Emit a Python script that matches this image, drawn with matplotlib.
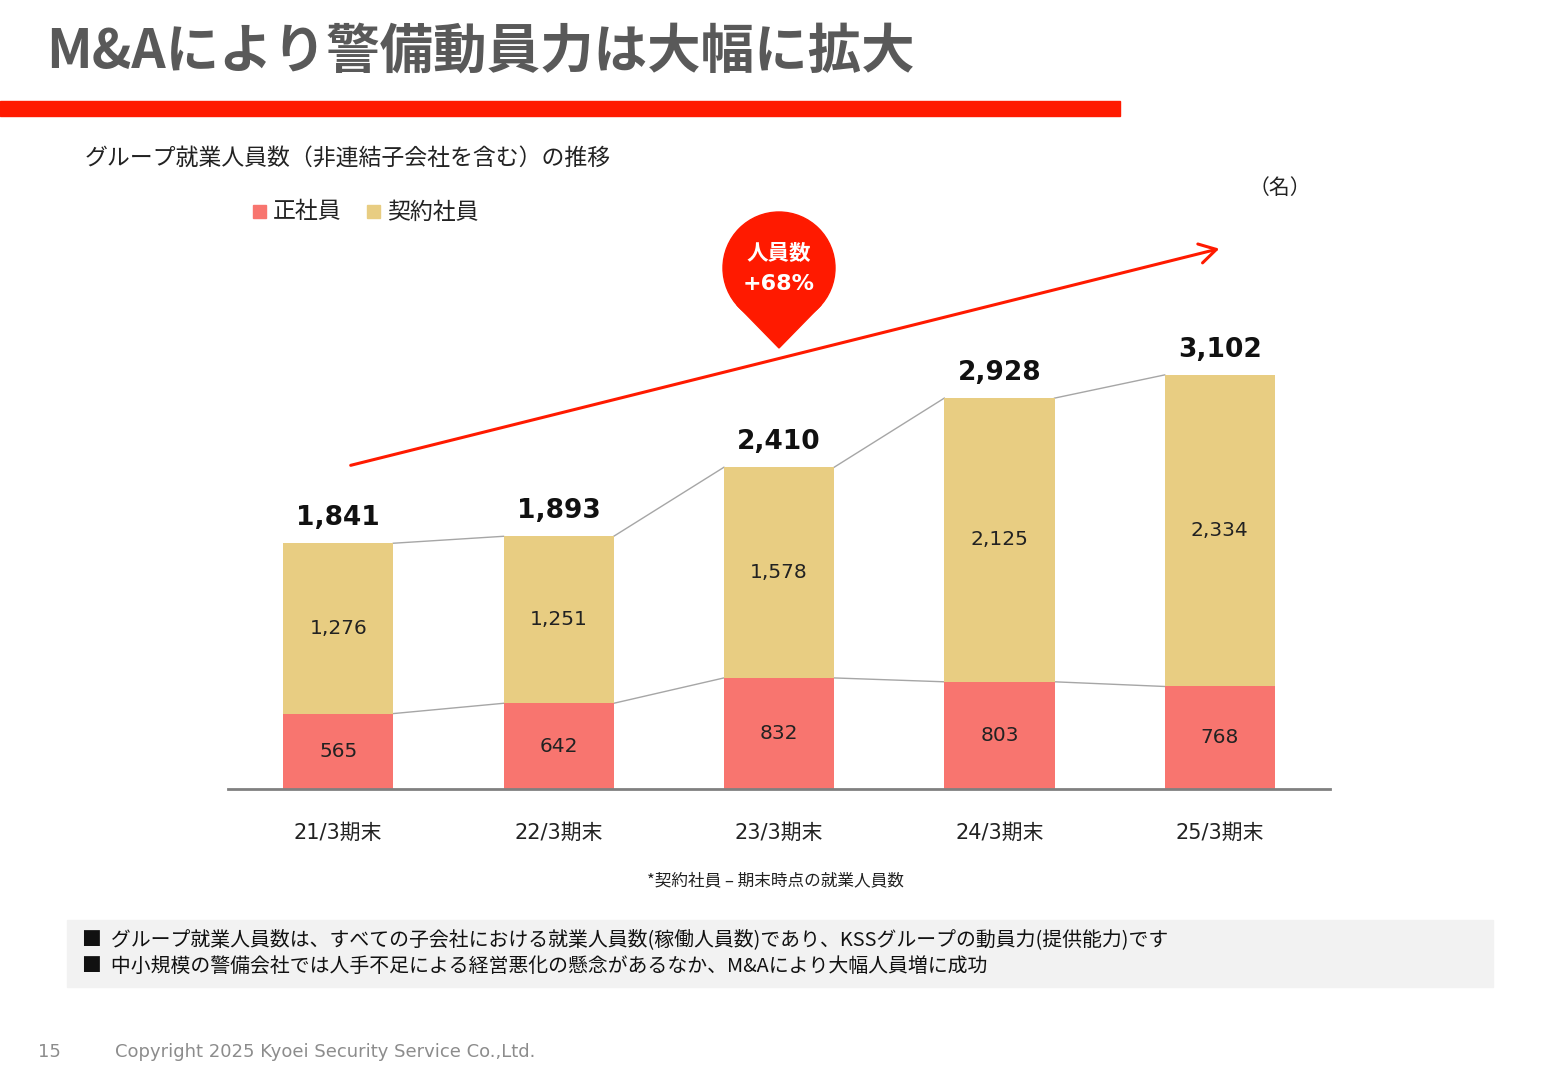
import matplotlib
matplotlib.use("Agg")
import matplotlib.pyplot as plt
from matplotlib.patches import Rectangle, Circle, Polygon, FancyArrowPatch

plt.rcParams['font.family'] = ['Noto Sans CJK JP', 'DejaVu Sans']
NUM = ['DejaVu Sans']
MIX = ['DejaVu Sans', 'Noto Sans CJK JP']

categories = ["21/3期末", "22/3期末", "23/3期末", "24/3期末", "25/3期末"]
regular = [565, 642, 832, 803, 768]
contract = [1276, 1251, 1578, 2125, 2334]
totals = [1841, 1893, 2410, 2928, 3102]

W, H = 1560, 1080
fig = plt.figure(figsize=(15.6, 10.8), dpi=100)

ax = fig.add_axes([228/W, 1-789/H, (1330-228)/W, 609/H])
ax.set_xlim(-0.5, 4.5)
ax.set_ylim(0, 4562)
x = list(range(len(categories)))
bw = 0.5
c_reg = "#F8756F"
c_con = "#E8CD82"
ax.bar(x, regular, width=bw, color=c_reg, zorder=2)
ax.bar(x, contract, bottom=regular, width=bw, color=c_con, zorder=2)
for i in range(len(x)-1):
    ax.plot([x[i]+bw/2, x[i+1]-bw/2], [totals[i], totals[i+1]], color="#A6A6A6", lw=1, zorder=1)
    ax.plot([x[i]+bw/2, x[i+1]-bw/2], [regular[i], regular[i+1]], color="#A6A6A6", lw=1, zorder=1)
for i in x:
    ax.text(i, regular[i]/2, f"{regular[i]:,}", ha="center", va="center", fontsize=14.5, color="#222", family=NUM)
    ax.text(i, regular[i]+contract[i]/2, f"{contract[i]:,}", ha="center", va="center", fontsize=14.5, color="#222", family=NUM)
    ax.text(i, totals[i]+90, f"{totals[i]:,}", ha="center", va="bottom", fontsize=19, fontweight="bold", color="#111", family=NUM)
for s in ["top", "right", "left"]:
    ax.spines[s].set_visible(False)
ax.spines["bottom"].set_color("#808080")
ax.spines["bottom"].set_linewidth(2)
ax.set_yticks([])
ax.set_xticks(x)
ax.set_xticklabels(categories, fontsize=15, color="#222", family=MIX)
ax.tick_params(axis="x", length=0, pad=24)
ax.patch.set_alpha(0)

ov = fig.add_axes([0, 0, 1, 1], zorder=5)
ov.set_xlim(0, W); ov.set_ylim(H, 0); ov.axis("off"); ov.patch.set_alpha(0)

ov.text(46, 52, "M&Aにより警備動員力は大幅に拡大", fontsize=38.5, fontweight="bold", color="#595959", va="center", ha="left")
ov.add_patch(Rectangle((0, 101), 1120, 15, color="#FF1A00"))
ov.text(85, 158, "グループ就業人員数（非連結子会社を含む）の推移", fontsize=16.5, va="center", color="#222")
ov.add_patch(Rectangle((253, 205), 13, 13, color=c_reg))
ov.text(273, 212, "正社員", fontsize=16.5, va="center", color="#222")
ov.add_patch(Rectangle((367, 205), 13, 13, color=c_con))
ov.text(387, 212, "契約社員", fontsize=16.5, va="center", color="#222")
ov.text(1280, 188, "（名）", fontsize=15, va="center", ha="center", color="#222")

ov.add_patch(FancyArrowPatch((348, 466), (1222, 248), arrowstyle="->,head_length=12,head_width=7",
                             color="#FF1A00", lw=2.2, mutation_scale=1))
ov.add_patch(Polygon([(737, 305), (821, 305), (779, 348)], closed=True, color="#FF1A00"))
ov.add_patch(Circle((779, 268), 56, color="#FF1A00"))
ov.text(779, 254, "人員数", fontsize=15.5, fontweight="bold", color="white", ha="center", va="center")
ov.text(779, 284, "+68%", fontsize=16, fontweight="bold", color="white", ha="center", va="center", family=NUM)

ov.text(775, 881, "*契約社員 – 期末時点の就業人員数", fontsize=12, ha="center", va="center", color="#222")
ov.add_patch(Rectangle((67, 920), 1426, 67, color="#F2F2F2"))
ov.text(82, 940, "■  グループ就業人員数は、すべての子会社における就業人員数(稼働人員数)であり、KSSグループの動員力(提供能力)です",
        fontsize=14.3, va="center", color="#111")
ov.text(82, 966, "■  中小規模の警備会社では人手不足による経営悪化の懸念があるなか、M&Aにより大幅人員増に成功",
        fontsize=14.3, va="center", color="#111")
ov.text(38, 1052, "15", fontsize=13, va="center", color="#8C8C8C", family=NUM)
ov.text(115, 1052, "Copyright 2025 Kyoei Security Service Co.,Ltd.", fontsize=13, va="center", color="#8C8C8C", family=NUM)

fig.savefig("out.png", dpi=100)
